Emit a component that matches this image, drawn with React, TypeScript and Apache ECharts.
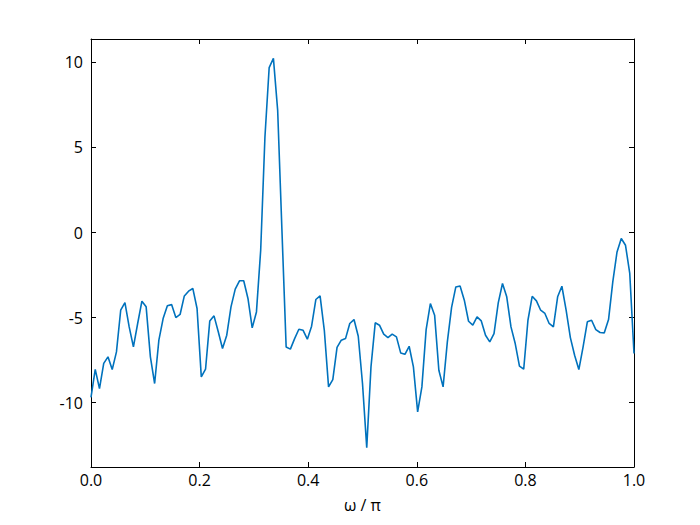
import React, { useEffect, useRef } from "react";
import * as echarts from "echarts";

const magnitudeDb: number[] = [
  -9.7, -8.05, -9.18, -7.7, -7.31, -8.06, -7.02, -4.57, -4.12, -5.55,
  -6.73, -5.35, -4.04, -4.37, -7.31, -8.88, -6.33, -5.06, -4.31, -4.24,
  -5.0, -4.82, -3.73, -3.45, -3.29, -4.47, -8.49, -8.04, -5.2, -4.9,
  -5.84, -6.82, -6.04, -4.37, -3.33, -2.84, -2.84, -3.88, -5.61, -4.67,
  -1.04, 5.6, 9.7, 10.24, 7.2, 0.2, -6.73, -6.86, -6.24, -5.69,
  -5.75, -6.27, -5.51, -3.94, -3.73, -5.75, -9.08, -8.65, -6.76, -6.33,
  -6.24, -5.35, -5.12, -6.1, -8.88, -12.65, -7.9, -5.31, -5.45, -5.98,
  -6.18, -5.98, -6.14, -7.08, -7.16, -6.69, -7.9, -10.55, -9.08, -5.71,
  -4.18, -4.86, -8.1, -9.08, -6.43, -4.4, -3.2, -3.14, -3.98, -5.22,
  -5.45, -4.96, -5.2, -6.04, -6.43, -5.94, -4.14, -3.0, -3.78, -5.55,
  -6.53, -7.86, -8.04, -5.16, -3.75, -4.02, -4.57, -4.76, -5.35, -5.55,
  -3.78, -3.16, -4.57, -6.18, -7.22, -8.06, -6.73, -5.25, -5.16, -5.71,
  -5.88, -5.9, -5.12, -2.9, -1.14, -0.35, -0.75, -2.41, -7.12,
];

const yTicks: number[] = [-10, -5, 0, 5, 10];
const xTicks: number[] = [0, 0.2, 0.4, 0.6, 0.8, 1.0];
const xLabel = "ω / π";

const FONT = "Open Sans";

export default function App() {
  const ref = useRef<HTMLDivElement>(null);

  useEffect(() => {
    if (!ref.current) return;
    const chart = echarts.init(ref.current, undefined, { renderer: "svg" });
    const n = magnitudeDb.length - 1;
    const data = magnitudeDb.map((v, i) => [i / n, v]);

    const axisLineStyle = { onZero: false, show: true, lineStyle: { color: "#000", width: 1 } };
    const tickBase = {
      show: true,
      inside: true,
      length: 5,
      lineStyle: { color: "#000", width: 1 },
    };

    chart.setOption({
      animation: false,
      backgroundColor: "#fff",
      grid: { left: 91, right: 66, top: 39, bottom: 58, containLabel: false },
      xAxis: [
        {
          type: "value",
          min: 0,
          max: 1,
          position: "bottom",
          axisLine: axisLineStyle,
          axisTick: { ...tickBase, customValues: xTicks },
          axisLabel: {
            customValues: xTicks,
            formatter: (v: number) => v.toFixed(1),
            color: "#000",
            fontFamily: FONT,
            fontSize: 16,
            margin: 5,
          },
          splitLine: { show: false },
          name: xLabel,
          nameLocation: "middle",
          nameGap: 30,
          nameTextStyle: { color: "#000", fontFamily: FONT, fontSize: 16 },
        },
        {
          type: "value",
          min: 0,
          max: 1,
          position: "top",
          axisLine: axisLineStyle,
          axisTick: { ...tickBase, customValues: xTicks },
          axisLabel: { show: false },
          splitLine: { show: false },
        },
      ],
      yAxis: [
        {
          type: "value",
          min: -13.79,
          max: 11.38,
          position: "left",
          axisLine: axisLineStyle,
          axisTick: { ...tickBase, customValues: yTicks },
          axisLabel: {
            customValues: yTicks,
            formatter: (v: number) => String(v),
            color: "#000",
            fontFamily: FONT,
            fontSize: 16,
            margin: 8,
          },
          splitLine: { show: false },
        },
        {
          type: "value",
          min: -13.79,
          max: 11.38,
          position: "right",
          axisLine: axisLineStyle,
          axisTick: { ...tickBase, customValues: yTicks },
          axisLabel: { show: false },
          splitLine: { show: false },
        },
      ],
      series: [
        {
          type: "line",
          data,
          xAxisIndex: 0,
          yAxisIndex: 0,
          showSymbol: false,
          symbol: "none",
          lineStyle: { color: "#0072BD", width: 1.6 },
          clip: true,
        },
      ],
    });

    return () => chart.dispose();
  }, []);

  return (
    <div
      ref={ref}
      style={{ position: "fixed", left: 0, top: 0, width: 700, height: 525 }}
    />
  );
}
